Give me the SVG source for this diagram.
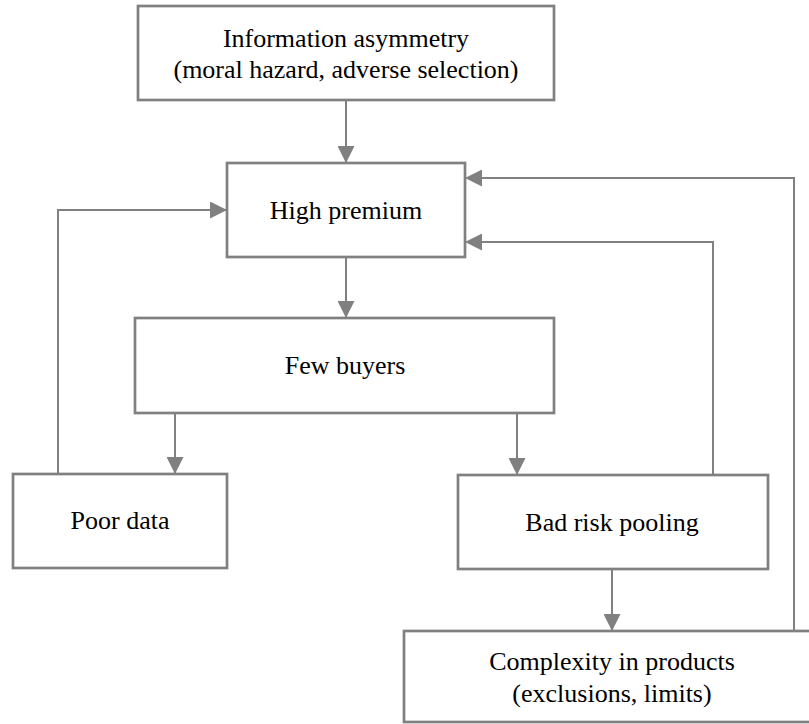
<svg xmlns="http://www.w3.org/2000/svg" width="809" height="724" viewBox="0 0 809 724">
<style>
.box{fill:#fff;stroke:#808080;stroke-width:2.7}
.ln{fill:none;stroke:#808080;stroke-width:2}
text{font-family:"Liberation Serif","Times New Roman",serif;font-size:26px;fill:#000;text-anchor:middle}
</style>
<defs>
<marker id="ah" markerWidth="17" markerHeight="17" refX="17" refY="8.5" orient="auto" markerUnits="userSpaceOnUse">
<path d="M0,0 L17,8.5 L0,17 Z" fill="#808080"/>
</marker>
</defs>
<rect width="809" height="724" fill="#fff"/>
<g id="connectors">
<path class="ln" d="M346,100 V163" marker-end="url(#ah)"/>
<path class="ln" d="M346,257 V318" marker-end="url(#ah)"/>
<path class="ln" d="M175,413 V474" marker-end="url(#ah)"/>
<path class="ln" d="M517,413 V475" marker-end="url(#ah)"/>
<path class="ln" d="M612,569 V631" marker-end="url(#ah)"/>
<path class="ln" d="M58,474 V210 H227" marker-end="url(#ah)"/>
<path class="ln" d="M713,475 V242 H465" marker-end="url(#ah)"/>
<path class="ln" d="M794,631 V178 H465" marker-end="url(#ah)"/>
</g>
<g id="info">
<rect class="box" x="138" y="6" width="416" height="94"/>
<text x="346" y="47">Information asymmetry</text>
<text x="346" y="78">(moral hazard, adverse selection)</text>
</g>
<g id="premium">
<rect class="box" x="227" y="163" width="238" height="94"/>
<text x="346" y="219">High premium</text>
</g>
<g id="buyers">
<rect class="box" x="135" y="318" width="419" height="95"/>
<text x="345" y="374">Few buyers</text>
</g>
<g id="poordata">
<rect class="box" x="13" y="474" width="214" height="94"/>
<text x="120" y="529">Poor data</text>
</g>
<g id="pooling">
<rect class="box" x="458" y="475" width="310" height="94"/>
<text x="612" y="531">Bad risk pooling</text>
</g>
<g id="complexity">
<rect class="box" x="404" y="631" width="416" height="91"/>
<text x="612" y="670">Complexity in products</text>
<text x="612" y="702">(exclusions, limits)</text>
</g>
</svg>
